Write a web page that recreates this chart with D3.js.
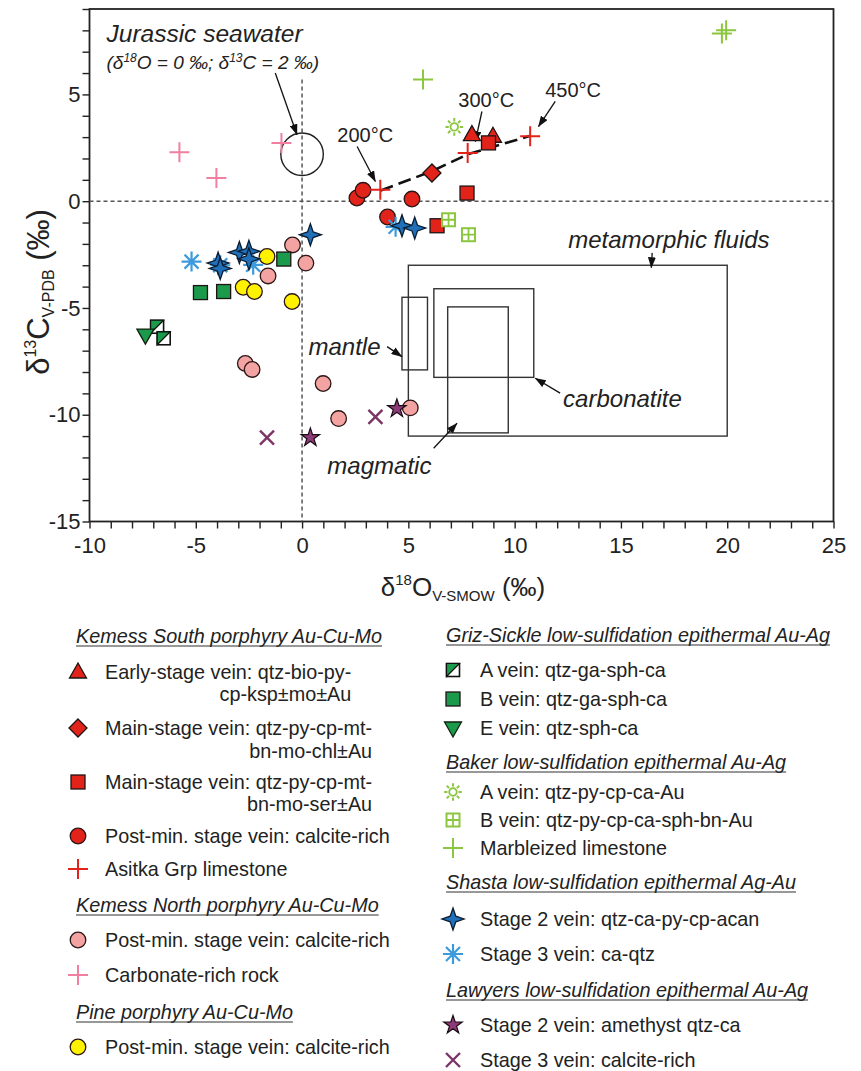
<!DOCTYPE html>
<html>
<head>
<meta charset="utf-8">
<script src="https://cdn.jsdelivr.net/npm/d3@7/dist/d3.min.js"></script>
<style>
  html, body { margin: 0; padding: 0; background: #fff; }
  svg { display: block; font-family: "Liberation Sans", Arial, Helvetica, sans-serif; }
</style>
</head>
<body>
<svg id="chart" width="861" height="1071"></svg>
<script>
// ---- axis ranges and tick labels ----
const xDomain = [-10, 25];
const yDomain = [-15, 9];
const xTickLabels = [-10, -5, 0, 5, 10, 15, 20, 25];
const yTickLabels = [-15, -10, -5, 0, 5];

// ---- Kemess South porphyry Au-Cu-Mo ----
const ksEarlyVein   = [[7.99, 3.12], [8.98, 3.04]];
const ksMainChlVein = [[6.11, 1.32]];
const ksMainSerVein = [[7.76, 0.38], [6.35, -1.15], [8.77, 2.73]];
const ksPostMin     = [[2.58, 0.15], [2.87, 0.51], [5.17, 0.10], [4.02, -0.74]];
const ksAsitka      = [[3.68, 0.54], [7.79, 2.26], [10.73, 3.04]];
// ---- Kemess North porphyry Au-Cu-Mo ----
const knPostMin     = [[-0.45, -2.05], [0.18, -2.90], [-1.60, -3.50], [-2.67, -7.60], [-2.35, -7.88],
                       [0.99, -8.54], [1.72, -10.18], [5.09, -9.68]];
const knCarbonate   = [[-5.77, 2.29], [-4.03, 1.09], [-0.97, 2.73]];
// ---- Pine porphyry Au-Cu-Mo ----
const pinePostMin   = [[-1.65, -2.59], [-2.77, -4.03], [-2.24, -4.23], [-0.47, -4.70]];
// ---- Griz-Sickle ----
const gsAVein       = [[-6.82, -5.88], [-6.51, -6.42]];
const gsBVein       = [[-0.86, -2.71], [-4.78, -4.28], [-3.69, -4.23]];
const gsEVein       = [[-7.37, -6.27]];
// ---- Baker ----
const bkAVein       = [[7.16, 3.48]];
const bkBVein       = [[6.89, -0.87], [7.83, -1.57]];
const bkMarble      = [[5.69, 5.70], [19.75, 7.85], [19.95, 8.00]];
// ---- Shasta ----
const shStage2      = [[-3.95, -2.90], [-3.85, -3.15], [-2.95, -2.40], [-2.50, -2.35], [-2.50, -2.70],
                       [0.39, -1.57], [4.70, -1.15], [5.30, -1.26]];
const shStage3      = [[-5.20, -2.83], [-3.85, -3.00], [-2.30, -2.98], [4.40, -1.20]];
// ---- Lawyers ----
const lwStage2      = [[0.39, -11.07], [4.46, -9.71]];
const lwStage3      = [[-1.65, -11.07], [3.45, -10.10]];

// fluid-calcite equilibrium trend (200 to 450 °C)
const tempTrend     = [[3.70, 0.50], [6.10, 1.40], [7.80, 2.20], [10.70, 3.05]];

// reference fields: [x0, x1, y0, y1]
const fieldNames  = ["metamorphic fluids", "mantle", "carbonatite", "magmatic"];
const fieldBoxes  = [[5, 20, -3, -11], [4.7, 5.9, -4.5, -7.9], [6.2, 10.9, -4.1, -8.25], [6.85, 9.7, -4.95, -10.85]];
const fieldLabelAt = [[12.52, -1.81], [0.30, -6.81], [12.28, -9.23], [1.19, -12.35]];
const fieldArrows  = [[[16.47, -2.42], [16.43, -3.12]], [[4.0, -6.81], [4.7, -7.28]],
                      [[12.14, -8.99], [10.97, -8.29]], [[6.19, -11.57], [7.29, -10.4]]];

// temperature labels
const tempLabels  = ["200°C", "300°C", "450°C"];
const tempLabelAt = [[1.66, 3.11], [7.35, 4.75], [11.44, 5.22]];
const tempArrows  = [[[2.59, 2.56], [3.45, 0.92]], [[8.46, 4.20], [8.15, 2.79]], [[11.91, 4.67], [11.12, 3.49]]];

// Jurassic seawater
const seawater = { center: [0, 2.2], radius: 1.0 };
const seawaterLabelAt = [[-9.2, 7.88], [-9.2, 6.52]];
const seawaterArrow = [[-1.26, 6.0], [-0.24, 3.11]];

// ---- layout ----
const svg = d3.select("#chart");
const plot = { left: 89.5, right: 833.5, top: 9, bottom: 521.5 };
const x = d3.scaleLinear().domain(xDomain).range([plot.left, plot.right]);
const y = d3.scaleLinear().domain(yDomain).range([plot.bottom, plot.top]);

const C = {
  red: "#e2231a", pink: "#f4a3a3", pinkCross: "#f07fa0", yellow: "#fff200",
  green: "#1a9a4a", lime: "#8cc63f", blue: "#1f70b8", lightBlue: "#3d9bdc",
  purple: "#8e3a78", purpleX: "#7d3566"
};

const defs = svg.append("defs");
defs.append("marker").attr("id", "ah")
  .attr("markerUnits", "userSpaceOnUse")
  .attr("viewBox", "0 0 11 8").attr("markerWidth", 11).attr("markerHeight", 8)
  .attr("refX", 10.5).attr("refY", 4).attr("orient", "auto")
  .append("path").attr("d", "M0,0 L11,4 L0,8 Z").attr("fill", "#111");

// ---- axes ----
const xAxis = d3.axisBottom(x).tickValues(d3.range(-10, 26, 1)).tickSize(7).tickPadding(9)
  .tickFormat(d => xTickLabels.includes(d) ? String(d) : "");
const yAxis = d3.axisLeft(y).tickValues(d3.range(-15, 10, 1)).tickSize(7).tickPadding(2)
  .tickFormat(d => yTickLabels.includes(d) ? String(d) : "");

const gx = svg.append("g").attr("transform", `translate(0,${plot.bottom})`).call(xAxis);
const gy = svg.append("g").attr("transform", `translate(${plot.left},0)`).call(yAxis);
[gx, gy].forEach(g => {
  g.select(".domain").remove();
  g.selectAll(".tick line").attr("stroke", "#222").attr("stroke-width", 1.4);
  g.selectAll(".tick text").attr("font-size", 22).attr("fill", "#222")
    .attr("font-family", "'Liberation Sans', Arial, sans-serif");
});

// plot frame
svg.append("rect")
  .attr("x", plot.left).attr("y", plot.top)
  .attr("width", plot.right - plot.left).attr("height", plot.bottom - plot.top)
  .attr("fill", "none").attr("stroke", "#222").attr("stroke-width", 1.8);

// axis titles
const xt = svg.append("text").attr("x", 463).attr("y", 596).attr("text-anchor", "middle")
  .attr("font-size", 26).attr("fill", "#222");
xt.append("tspan").text("δ");
xt.append("tspan").attr("font-size", 15).attr("dy", -11).text("18");
xt.append("tspan").attr("dy", 11).text("O");
xt.append("tspan").attr("font-size", 15).attr("dy", 5).text("V-SMOW");
xt.append("tspan").attr("dy", -5).text(" (‰)");

const yt = svg.append("text").attr("transform", "translate(49,292) rotate(-90)")
  .attr("text-anchor", "middle").attr("font-size", 31).attr("fill", "#222");
yt.append("tspan").text("δ");
yt.append("tspan").attr("font-size", 16).attr("dy", -13).text("13");
yt.append("tspan").attr("dy", 13).text("C");
yt.append("tspan").attr("font-size", 16).attr("dy", 5).text("V-PDB");
yt.append("tspan").attr("dy", -5).text(" (‰)");

// ---- reference lines ----
svg.append("line").attr("x1", plot.left).attr("x2", plot.right).attr("y1", y(0)).attr("y2", y(0))
  .attr("stroke", "#555").attr("stroke-width", 1.5).attr("stroke-dasharray", "4,3");
svg.append("line").attr("x1", x(0)).attr("x2", x(0)).attr("y1", y(5.7)).attr("y2", plot.bottom)
  .attr("stroke", "#555").attr("stroke-width", 1.5).attr("stroke-dasharray", "4,3");

// reference fields
svg.append("g").selectAll("rect").data(fieldBoxes).join("rect")
  .attr("x", d => x(d[0])).attr("y", d => y(d[2]))
  .attr("width", d => x(d[1]) - x(d[0])).attr("height", d => y(d[3]) - y(d[2]))
  .attr("fill", "none").attr("stroke", "#333").attr("stroke-width", 1.4);

// seawater circle
svg.append("circle").attr("cx", x(seawater.center[0])).attr("cy", y(seawater.center[1]))
  .attr("r", x(seawater.radius) - x(0)).attr("fill", "none").attr("stroke", "#222").attr("stroke-width", 1.4);

// temperature trend
svg.append("path").datum(tempTrend)
  .attr("d", d3.line().x(d => x(d[0])).y(d => y(d[1])))
  .attr("fill", "none").attr("stroke", "#111").attr("stroke-width", 2.6).attr("stroke-dasharray", "13,6");

// ---- annotations ----
function arrow(a) {
  svg.append("line").attr("x1", x(a[0][0])).attr("y1", y(a[0][1]))
    .attr("x2", x(a[1][0])).attr("y2", y(a[1][1]))
    .attr("stroke", "#111").attr("stroke-width", 1.3).attr("marker-end", "url(#ah)");
}
function label(txt, at, size, italic) {
  return svg.append("text").attr("x", x(at[0])).attr("y", y(at[1])).attr("dy", "0.36em")
    .attr("font-size", size).attr("font-style", italic ? "italic" : "normal").attr("fill", "#222").text(txt);
}
fieldNames.forEach((n, i) => { label(n, fieldLabelAt[i], 24, true); arrow(fieldArrows[i]); });
tempLabels.forEach((n, i) => { label(n, tempLabelAt[i], 20, false); arrow(tempArrows[i]); });

label("Jurassic seawater", seawaterLabelAt[0], 24.5, true);
const sw = svg.append("text").attr("x", x(seawaterLabelAt[1][0])).attr("y", y(seawaterLabelAt[1][1]))
  .attr("dy", "0.36em").attr("font-size", 19).attr("font-style", "italic").attr("fill", "#222");
sw.append("tspan").text("(δ");
sw.append("tspan").attr("font-size", 12).attr("dy", -7).text("18");
sw.append("tspan").attr("dy", 7).text("O = 0 ‰; δ");
sw.append("tspan").attr("font-size", 12).attr("dy", -7).text("13");
sw.append("tspan").attr("dy", 7).text("C = 2 ‰)");
arrow(seawaterArrow);

// ---- marker shapes ----
const shapes = {
  circle: (g, fill) => g.append("circle").attr("r", 7.8).attr("fill", fill).attr("stroke", "#2b1515").attr("stroke-width", 1.3),
  square: (g, fill) => g.append("rect").attr("x", -7).attr("y", -7).attr("width", 14).attr("height", 14)
    .attr("fill", fill).attr("stroke", "#1e1414").attr("stroke-width", 1.3),
  triUp: (g, fill) => g.append("path").attr("d", "M0,-9 L8.5,6 L-8.5,6 Z").attr("fill", fill)
    .attr("stroke", "#1e1414").attr("stroke-width", 1.3),
  triDown: (g, fill) => g.append("path").attr("d", "M0,9 L8.5,-6 L-8.5,-6 Z").attr("fill", fill)
    .attr("stroke", "#102010").attr("stroke-width", 1.3),
  diamond: (g, fill) => g.append("path").attr("d", "M0,-9 L9,0 L0,9 L-9,0 Z").attr("fill", fill)
    .attr("stroke", "#1e1414").attr("stroke-width", 1.3),
  plus: (g, col, r = 10) => g.append("path").attr("d", `M${-r},0 H${r} M0,${-r} V${r}`)
    .attr("stroke", col).attr("stroke-width", 2).attr("fill", "none"),
  cross: (g, col) => g.append("path").attr("d", "M-7,-7 L7,7 M-7,7 L7,-7")
    .attr("stroke", col).attr("stroke-width", 2.4).attr("fill", "none"),
  star5: (g, fill) => g.append("path").attr("d", d3.symbol(d3.symbolStar, 105)())
    .attr("fill", fill).attr("stroke", "#1a0d14").attr("stroke-width", 1.2),
  star4: (g, fill) => g.append("path").attr("d", "M0,-11 L2.8,-2.8 L11,0 L2.8,2.8 L0,11 L-2.8,2.8 L-11,0 L-2.8,-2.8 Z")
    .attr("fill", fill).attr("stroke", "#0c1c30").attr("stroke-width", 1.3),
  asterisk: (g, col) => g.append("path").attr("d", "M-10,0 H10 M0,-10 V10 M-7,-7 L7,7 M-7,7 L7,-7")
    .attr("stroke", col).attr("stroke-width", 2.2).attr("fill", "none"),
  sun: (g, col) => {
    g.append("circle").attr("r", 3.8).attr("fill", "#fff").attr("stroke", col).attr("stroke-width", 1.8);
    const rays = d3.range(8).map(k => {
      const a = k * Math.PI / 4;
      return `M${5.5 * Math.cos(a)},${5.5 * Math.sin(a)} L${8.8 * Math.cos(a)},${8.8 * Math.sin(a)}`;
    }).join(" ");
    g.append("path").attr("d", rays).attr("stroke", col).attr("stroke-width", 2).attr("fill", "none");
  },
  gridSquare: (g, col) => {
    g.append("rect").attr("x", -6.5).attr("y", -6.5).attr("width", 13).attr("height", 13)
      .attr("fill", "#fff").attr("stroke", col).attr("stroke-width", 2);
    g.append("path").attr("d", "M-6.5,0 H6.5 M0,-6.5 V6.5").attr("stroke", col).attr("stroke-width", 1.8);
  },
  halfSquare: (g, fill) => {
    g.append("rect").attr("x", -6.5).attr("y", -6.5).attr("width", 13).attr("height", 13)
      .attr("fill", "#fff").attr("stroke", "#111").attr("stroke-width", 1.6);
    g.append("path").attr("d", "M-6.5,-6.5 L6.5,-6.5 L-6.5,6.5 Z").attr("fill", fill)
      .attr("stroke", "#111").attr("stroke-width", 1.2);
  }
};

// series definitions (draw order)
const series = [
  { name: "Early-stage vein: qtz-bio-py-|cp-ksp±mo±Au", data: ksEarlyVein, shape: "triUp", color: C.red },
  { name: "Main-stage vein: qtz-py-cp-mt-|bn-mo-chl±Au", data: ksMainChlVein, shape: "diamond", color: C.red },
  { name: "Main-stage vein: qtz-py-cp-mt-|bn-mo-ser±Au", data: ksMainSerVein, shape: "square", color: C.red },
  { name: "Post-min. stage vein: calcite-rich", data: ksPostMin, shape: "circle", color: C.red },
  { name: "Asitka Grp limestone", data: ksAsitka, shape: "plus", color: C.red },
  { name: "Post-min. stage vein: calcite-rich", data: knPostMin, shape: "circle", color: C.pink },
  { name: "Carbonate-rich rock", data: knCarbonate, shape: "plus", color: C.pinkCross },
  { name: "Post-min. stage vein: calcite-rich", data: pinePostMin, shape: "circle", color: C.yellow },
  { name: "A vein: qtz-ga-sph-ca", data: gsAVein, shape: "halfSquare", color: C.green },
  { name: "B vein: qtz-ga-sph-ca", data: gsBVein, shape: "square", color: C.green },
  { name: "E vein: qtz-sph-ca", data: gsEVein, shape: "triDown", color: C.green },
  { name: "A vein: qtz-py-cp-ca-Au", data: bkAVein, shape: "sun", color: C.lime },
  { name: "B vein: qtz-py-cp-ca-sph-bn-Au", data: bkBVein, shape: "gridSquare", color: C.lime },
  { name: "Marbleized limestone", data: bkMarble, shape: "plus", color: C.lime },
  { name: "Stage 3 vein: ca-qtz", data: shStage3, shape: "asterisk", color: C.lightBlue },
  { name: "Stage 2 vein: qtz-ca-py-cp-acan", data: shStage2, shape: "star4", color: C.blue },
  { name: "Stage 2 vein: amethyst qtz-ca", data: lwStage2, shape: "star5", color: C.purple },
  { name: "Stage 3 vein: calcite-rich", data: lwStage3, shape: "cross", color: C.purpleX }
];

const pts = svg.append("g");
series.forEach(s => {
  s.data.forEach(d => {
    const g = pts.append("g").attr("transform", `translate(${x(d[0])},${y(d[1])})`);
    shapes[s.shape](g, s.color);
  });
});

// ---- legend ----
const legendLeft = [
  { head: "Kemess South porphyry Au-Cu-Mo", y: 636 },
  { item: 0, y: 672, y2: 694 }, { item: 1, y: 728, y2: 751 }, { item: 2, y: 782, y2: 804 },
  { item: 3, y: 836 }, { item: 4, y: 869 },
  { head: "Kemess North porphyry Au-Cu-Mo", y: 905 },
  { item: 5, y: 940 }, { item: 6, y: 975 },
  { head: "Pine porphyry Au-Cu-Mo", y: 1012 },
  { item: 7, y: 1047 }
];
const legendRight = [
  { head: "Griz-Sickle low-sulfidation epithermal Au-Ag", y: 635 },
  { item: 8, y: 670 }, { item: 9, y: 699 }, { item: 10, y: 728 },
  { head: "Baker low-sulfidation epithermal Au-Ag", y: 762 },
  { item: 11, y: 792 }, { item: 12, y: 820 }, { item: 13, y: 848 },
  { head: "Shasta low-sulfidation epithermal Ag-Au", y: 882 },
  { item: 15, y: 919 }, { item: 14, y: 954 },
  { head: "Lawyers low-sulfidation epithermal Au-Ag", y: 990 },
  { item: 16, y: 1025 }, { item: 17, y: 1060 }
];

function drawLegend(rows, headX, markX, textX) {
  const lg = svg.append("g").attr("font-size", 19.8).attr("fill", "#222");
  rows.forEach(r => {
    if (r.head) {
      const t = lg.append("text").attr("x", headX).attr("y", r.y).attr("dy", "0.36em")
        .attr("font-style", "italic").text(r.head);
      const w = t.node().getComputedTextLength();
      lg.append("line").attr("x1", headX).attr("x2", headX + w)
        .attr("y1", r.y + 10).attr("y2", r.y + 10).attr("stroke", "#333").attr("stroke-width", 1.2);
    } else {
      const s = series[r.item];
      const g = lg.append("g").attr("transform", `translate(${markX},${r.y})`);
      shapes[s.shape](g, s.color);
      const parts = s.name.split("|");
      const t1 = lg.append("text").attr("x", textX).attr("y", r.y).attr("dy", "0.36em").text(parts[0]);
      if (parts[1]) {
        const w = t1.node().getComputedTextLength();
        lg.append("text").attr("x", textX + w).attr("y", r.y2).attr("dy", "0.36em")
          .attr("text-anchor", "end").text(parts[1]);
      }
    }
  });
}
drawLegend(legendLeft, 76, 78, 105);
drawLegend(legendRight, 446, 453, 480);
</script>
</body>
</html>
